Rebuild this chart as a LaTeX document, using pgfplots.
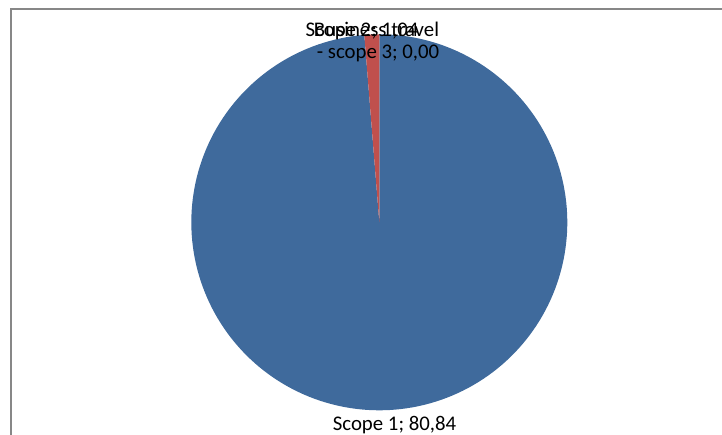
\documentclass[border=0pt]{standalone}
\usepackage{pgfplots}
\pgfplotsset{compat=1.18}
\usepackage{fontspec}
\setmainfont{Carlito}
\definecolor{sliceblue}{HTML}{3F6A9C}
\definecolor{slicered}{HTML}{C0504D}
\definecolor{framegrey}{HTML}{878787}
% data
\def\vA{80.84}% Scope 1
\def\vB{1.04}% Scope 2
\def\vC{0.00}% Business travel - scope 3
\pgfmathsetmacro\tot{\vA+\vB+\vC}
\pgfmathsetmacro\aA{90-360*(\vA/\tot)}
\pgfmathsetmacro\aB{\aA-360*(\vB/\tot)}
\def\cx{379.3}\def\cy{222.3}\def\rr{188}
\newcommand\lbl{\fontsize{20.8bp}{22bp}\selectfont}
\begin{document}
\begin{tikzpicture}
\useasboundingbox (0,0) rectangle (722bp,435bp);
\begin{axis}[at={(0,0)}, anchor=south west,
  width=722bp, height=435bp, scale only axis,
  xmin=0, xmax=722, ymin=0, ymax=435, y dir=reverse,
  axis lines=none, clip=false]
% frame
\draw[framegrey, line width=2bp] (axis cs:10.8,435) -- (axis cs:10.8,9) -- (axis cs:722,9);
% Scope 1
\addplot[fill=sliceblue, draw=none, domain=\aA:90, samples=200]
  ({\cx+\rr*cos(x)}, {\cy-\rr*sin(x)}) -- (axis cs:\cx,\cy) -- cycle;
% Scope 2
\addplot[fill=slicered, draw=none, domain=\aB:\aA, samples=20]
  ({\cx+\rr*cos(x)}, {\cy-\rr*sin(x)}) -- (axis cs:\cx,\cy) -- cycle;
% labels
\node[anchor=base, font=\lbl, inner sep=0pt] at (axis cs:394.5,430) {Scope 1; 80,84};
\node[anchor=base, font=\lbl, inner sep=0pt] at (axis cs:362,36.5) {Scope 2; 1,04};
\node[anchor=base, font=\lbl, inner sep=0pt] at (axis cs:376.5,36.5) {Business travel};
\node[anchor=base, font=\lbl, inner sep=0pt] at (axis cs:378,58.5) {- scope 3; 0,00};
\end{axis}
\end{tikzpicture}
\end{document}
